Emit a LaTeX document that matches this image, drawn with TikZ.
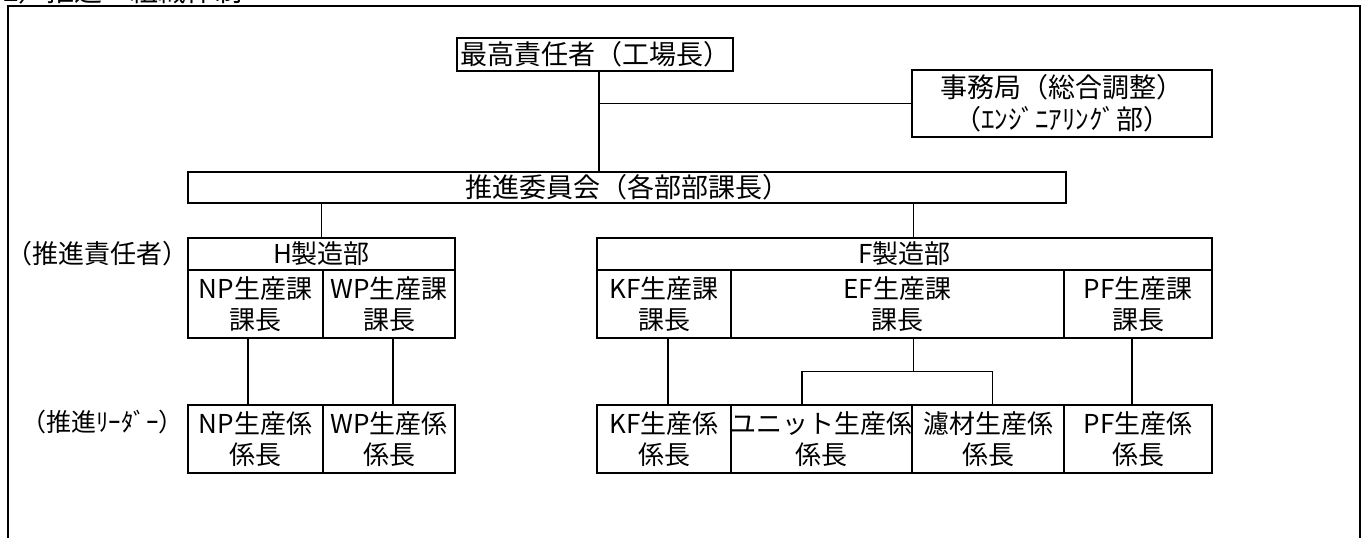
\documentclass[tikz,border=0pt]{standalone}
\usepackage{fontspec}
\setmainfont{Noto Sans CJK JP}
\usetikzlibrary{calc}
\tikzset{
  box/.style={draw, line width=1.8pt, inner sep=0pt, align=center, font=\fontsize{26}{31}\selectfont},
  conn/.style={line width=1.8pt},
  lbl/.style={inner sep=0pt, font=\fontsize{26}{31}\selectfont}
}
\begin{document}
\begin{tikzpicture}[x=1pt,y=-1pt]
\useasboundingbox (0,0) rectangle (1366,538);
% title (cut off at the top of the page, as in the reference)
\node[anchor=base west, inner sep=0pt, font=\fontsize{28}{30}\selectfont] (title) at (3,1.5) {2）推進・組織体制};
% outer frame
\coordinate (fbl) at (8,560);
\coordinate (ftl) at (8,6);
\coordinate (ftr) at (1360,6);
\coordinate (fbr) at (1360,560);
\draw[line width=1.8pt] (fbl) -- (ftl) -- (ftr) -- (fbr);
% top level
\node[box, minimum width=276pt, minimum height=33pt, font=\fontsize{27}{31}\selectfont] (top) at (595,54.5) {最高責任者（工場長）};
\node[box, minimum width=300pt, minimum height=67pt, font=\fontsize{27}{32}\selectfont] (jimu) at (1062,103.5) {事務局（総合調整）\\（ｴﾝｼﾞﾆｱﾘﾝｸﾞ部）};
\node[box, minimum width=878pt, minimum height=31pt, font=\fontsize{27}{31}\selectfont] (comm) at (627,187.5) {推進委員会（各部部課長）};
% H block
\node[box, minimum width=267pt, minimum height=32pt] (hhead) at (321.5,254) {H製造部};
\node[box, minimum width=135pt, minimum height=68pt] (npka) at (255.5,304) {NP生産課\\課長};
\node[box, minimum width=132pt, minimum height=68pt] (wpka) at (389,304) {WP生産課\\課長};
\node[box, minimum width=135pt, minimum height=68pt] (npkk) at (255.5,439) {NP生産係\\係長};
\node[box, minimum width=132pt, minimum height=68pt] (wpkk) at (389,439) {WP生産係\\係長};
% F block
\node[box, minimum width=615pt, minimum height=32pt] (fhead) at (904.5,254) {F製造部};
\node[box, minimum width=134pt, minimum height=68pt] (kfka) at (664,304) {KF生産課\\課長};
\node[box, minimum width=333pt, minimum height=68pt] (efka) at (897.5,304) {EF生産課\\課長};
\node[box, minimum width=148pt, minimum height=68pt] (pfka) at (1138,304) {PF生産課\\課長};
\node[box, minimum width=134pt, minimum height=68pt] (kfkk) at (664,439) {KF生産係\\係長};
\node[box, minimum width=181pt, minimum height=68pt] (unit) at (821.5,439) {ユニット生産係\\係長};
\node[box, minimum width=152pt, minimum height=68pt] (roka) at (988,439) {濾材生産係\\係長};
\node[box, minimum width=148pt, minimum height=68pt] (pfkk) at (1138,439) {PF生産係\\係長};
% side labels
\node[lbl, anchor=west] (sekinin) at (6,254) {（推進責任者）};
\node[lbl, anchor=west, font=\fontsize{25}{30}\selectfont] (leader) at (21,422) {（推進ﾘｰﾀﾞｰ）};
% connectors
\draw[conn] ([xshift=4pt]top.south) -- ([xshift=4pt]top.south |- comm.north);
\draw[conn] ([xshift=4pt]top.south |- jimu.west) -- (jimu.west);
\draw[conn] (hhead.north |- comm.south) -- (hhead.north);
\draw[conn] (unit.north east |- comm.south) -- (unit.north east |- fhead.north);
\draw[conn] ([xshift=-7.5pt]npka.south) -- ([xshift=-7.5pt]npkk.north);
\draw[conn] ([xshift=4pt]wpka.south) -- ([xshift=4pt]wpkk.north);
\draw[conn] ([xshift=4pt]kfka.south) -- ([xshift=4pt]kfkk.north);
\coordinate (efmid) at ($(unit.north east |- efka.south)!0.5!(unit.north east)$);
\draw[conn] (unit.north east |- efka.south) -- (efmid);
\draw[conn] ([xshift=-19.5pt]unit.north) -- ([xshift=-19.5pt]unit.north |- efmid) -- ([xshift=4.5pt]roka.north |- efmid) -- ([xshift=4.5pt]roka.north);
\draw[conn] ([xshift=-6pt]pfka.south) -- ([xshift=-6pt]pfkk.north);
\end{tikzpicture}
\end{document}
